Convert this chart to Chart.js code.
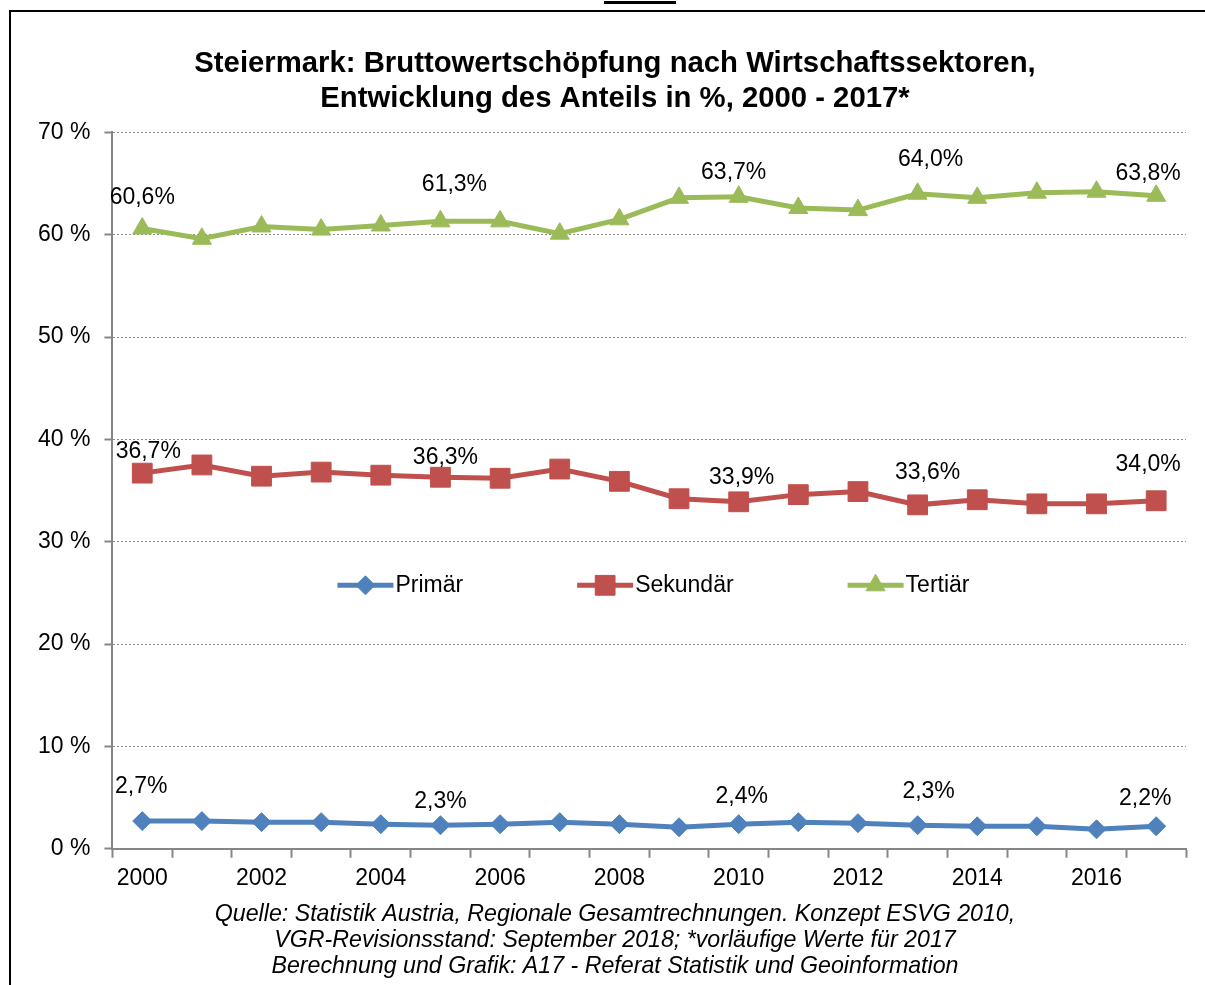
<!DOCTYPE html>
<html>
<head>
<meta charset="utf-8">
<script src="https://cdn.jsdelivr.net/npm/chart.js@4.4.0/dist/chart.umd.min.js"></script>
<style>
html,body{margin:0;padding:0;background:#fff;overflow:hidden;width:1205px;height:985px}
#rahmen{position:absolute;left:9px;top:10px;width:1210px;height:1000px;border:2px solid #000}
#strich{position:absolute;left:604px;top:1px;width:72px;height:3px;background:#000}
#grafico{position:absolute;left:0;top:0}
</style>
</head>
<body>
<div id="rahmen"></div>
<div id="strich"></div>
<canvas id="grafico" width="1205" height="985"></canvas>
<script>
// Daten
const jahre = ["2000","2001","2002","2003","2004","2005","2006","2007","2008","2009","2010","2011","2012","2013","2014","2015","2016","2017"]
const primaer  = [2.7,2.7,2.6,2.6,2.4,2.3,2.4,2.6,2.4,2.1,2.4,2.6,2.5,2.3,2.2,2.2,1.9,2.2]
const sekundaer = [36.7,37.5,36.4,36.8,36.5,36.3,36.2,37.1,35.9,34.2,33.9,34.6,34.9,33.6,34.1,33.7,33.7,34.0]
const tertiaer = [60.6,59.6,60.8,60.5,60.9,61.3,61.3,60.1,61.5,63.6,63.7,62.6,62.4,64.0,63.6,64.1,64.2,63.8]
const yTicks = [0,10,20,30,40,50,60,70]
const beschriftet = [0,5,10,13,17]   // Jahre mit Wertbeschriftung

const titel = ["Steiermark: Bruttowertschöpfung nach Wirtschaftssektoren,","Entwicklung des Anteils in %, 2000 - 2017*"]
const quelle = ["Quelle: Statistik Austria, Regionale Gesamtrechnungen. Konzept ESVG 2010,","VGR-Revisionsstand: September 2018; *vorläufige Werte für 2017","Berechnung und Grafik: A17 - Referat Statistik und Geoinformation"]

// Verschiebung der Wertbeschriftungen (dx, dy) je Reihe
const labelVersatz = [
[[-1,-34],[0,-24],[3,-28],[11,-34],[-11,-28]],
[[6,-21],[5,-20],[3,-24],[10,-32],[-8,-36]],
[[0,-31],[14,-37],[-5,-24],[13,-34],[-8,-22]]
]

const schrift = "'Liberation Sans', Arial, sans-serif"

const wertLabels = {
id: "wertLabels",
afterDatasetsDraw(chart){
const ctx = chart.ctx
ctx.save()
ctx.font = "23px " + schrift
ctx.fillStyle = "#000"
ctx.textAlign = "center"
ctx.textBaseline = "middle"
chart.data.datasets.forEach((ds,s)=>{
let meta = chart.getDatasetMeta(s)
beschriftet.forEach((idx,k)=>{
let p = meta.data[idx]
let v = ds.data[idx].toFixed(1).replace(".",",") + "%"
ctx.fillText(v, p.x + labelVersatz[s][k][0], p.y + labelVersatz[s][k][1])
})
})
ctx.restore()
}
}

const legende = {
id: "legende",
afterDraw(chart){
const ctx = chart.ctx
const area = chart.chartArea
ctx.save()
ctx.font = "23px " + schrift
ctx.textBaseline = "middle"
let x = area.left + 225
let y = area.top + 453
chart.data.datasets.forEach(ds=>{
ctx.strokeStyle = ds.borderColor
ctx.lineWidth = 5
ctx.beginPath()
ctx.moveTo(x,y)
ctx.lineTo(x+56,y)
ctx.stroke()
ctx.fillStyle = ds.borderColor
ctx.lineWidth = 1
Chart.helpers.drawPoint(ctx,{pointStyle: ds.pointStyle, radius: ds.pointRadius, rotation: 0, borderWidth: 1}, x+28, y)
ctx.fillStyle = "#000"
ctx.fillText(ds.label, x+58, y)
x += 58 + ctx.measureText(ds.label).width + 114
})
ctx.restore()
}
}

// Titel und Quelle etwas nach rechts, wie im Original
const zentrieren = {
id: "zentrieren",
afterLayout(chart){
chart.boxes.forEach(b=>{
if(b.fullSize && b.options && b.options.text){
b.left += 20
}
})
}
}

function reihe(name, werte, farbe, stil, radius){
return {
label: name,
data: werte,
borderColor: farbe,
backgroundColor: farbe,
borderWidth: 5,
pointStyle: stil,
pointRadius: radius,
pointBorderWidth: 1,
pointBackgroundColor: farbe,
pointBorderColor: farbe,
tension: 0
}
}

const grafico = new Chart(document.getElementById("grafico"), {
type: "line",
data: {
labels: jahre,
datasets: [
reihe("Primär", primaer, "#4F81BD", "rectRot", 9.5),
reihe("Sekundär", sekundaer, "#C0504D", "rect", 14),
reihe("Tertiär", tertiaer, "#9BBB59", "triangle", 11)
]
},
options: {
responsive: false,
animation: false,
layout: { padding: { left: 24, right: 19, top: 0, bottom: 0 } },
plugins: {
legend: { display: false },
tooltip: { enabled: false },
title: {
display: true,
text: titel,
color: "#000",
font: { family: schrift, size: 29.3, weight: "bold", lineHeight: 1.2 },
padding: { top: 46, bottom: 16 }
},
subtitle: {
display: true,
position: "bottom",
text: quelle,
color: "#000",
font: { family: schrift, size: 23.2, style: "italic", lineHeight: 1.13 },
padding: { top: 2, bottom: 5 }
}
},
scales: {
x: {
offset: true,
grid: { display: true, offset: true, drawOnChartArea: false, tickLength: 9, tickColor: "#868686", tickWidth: 2 },
border: { color: "#868686", width: 2 },
ticks: {
autoSkip: false,
maxRotation: 0,
color: "#000",
padding: 7,
font: { family: schrift, size: 23 },
callback: function(v, i){ return i % 2 == 0 ? jahre[i] : "" }
}
},
y: {
min: 0,
max: 70,
afterBuildTicks: function(axis){ axis.ticks = yTicks.map(v=>({value: v})) },
grid: { color: "#8c8c8c", lineWidth: 1, tickLength: 8, tickColor: "#868686", tickWidth: 2 },
border: { color: "#868686", width: 2, dash: [2,2] },
ticks: {
color: "#000",
padding: 14,
font: { family: schrift, size: 23 },
callback: function(v){ return v + " %" }
}
}
}
},
plugins: [wertLabels, legende, zentrieren]
})
</script>
</body>
</html>
